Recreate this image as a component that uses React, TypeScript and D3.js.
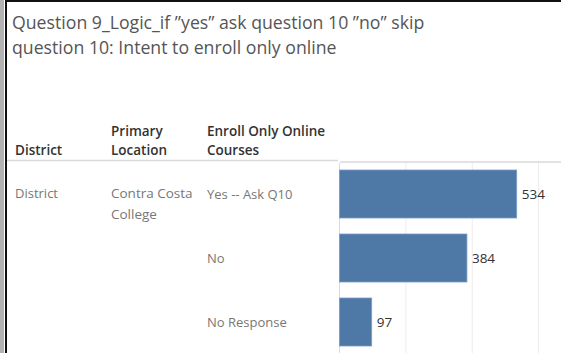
import React from "react";
import * as d3 from "d3";

const titleLines = ["Question 9_Logic_if ”yes” ask question 10 ”no” skip", "question 10: Intent to enroll only online"];
const headers = [
  { lines: ["District"] },
  { lines: ["Primary", "Location"] },
  { lines: ["Enroll Only Online", "Courses"] },
];
const districtLabel = "District";
const locationLabel = ["Contra Costa", "College"];
const categories = ["Yes -- Ask Q10", "No", "No Response"];
const values = [534, 384, 97];
const gridTicks = [200, 400, 600];

const W = 561;
const H = 353;
const FONT = "'Open Sans', 'Noto Sans', sans-serif";

export default function App() {
  React.useEffect(() => {
    document.body.style.margin = "0";
  }, []);
  const x = d3.scaleLinear().domain([0, 600]).range([339.5, 538.6]);
  const y = d3
    .scaleBand<string>()
    .domain(categories)
    .range([162, 354])
    .paddingInner(0.25)
    .paddingOuter(0.125);

  const colX = [15, 111, 207];

  return (
    <svg width={W} height={H} style={{ position: "absolute", left: 0, top: 0, background: "#fff" }} fontFamily={FONT}>
      {/* frame */}
      <rect x={0} y={0} width={4} height={H} fill="#b3b3b3" />
      <rect x={5} y={0} width={2} height={H} fill="#111" />
      <rect x={5} y={0} width={W - 5} height={2} fill="#111" />

      {/* title */}
      {titleLines.map((t, i) => (
        <text key={i} x={12} y={29 + i * 25} fontSize={17.7} fill="#555" fontWeight={400}>
          {t}
        </text>
      ))}

      {/* headers */}
      {headers.map((h, i) =>
        h.lines.map((l, j) => (
          <text
            key={`${i}-${j}`}
            x={colX[i]}
            y={155 - (h.lines.length - 1 - j) * 19}
            fontSize={13.5}
            fontWeight={600}
            fill="#333"
          >
            {l}
          </text>
        ))
      )}

      {/* separators */}
      <line x1={7} x2={338} y1={160.5} y2={160.5} stroke="#d9d9d9" strokeWidth={1.5} />
      <line x1={340} x2={W} y1={162} y2={162} stroke="#d9d9d9" strokeWidth={1.5} />

      {/* gridlines */}
      {gridTicks.map((t) => (
        <line key={t} x1={x(t)} x2={x(t)} y1={163} y2={H} stroke="#ececec" strokeWidth={1} />
      ))}
      <line x1={x(0)} x2={x(0)} y1={163} y2={H} stroke="#d9d9d9" strokeWidth={1} />

      {/* row labels */}
      <text x={colX[0]} y={198} fontSize={13} fill="#777">
        {districtLabel}
      </text>
      {locationLabel.map((l, j) => (
        <text key={j} x={colX[1]} y={198 + j * 21} fontSize={13.5} fill="#777">
          {l}
        </text>
      ))}
      {categories.map((c) => (
        <text
          key={c}
          x={colX[2]}
          y={(y(c) as number) + y.bandwidth() / 2}
          dy="0.35em"
          fontSize={13}
          fill="#777"
        >
          {c}
        </text>
      ))}

      {/* bars */}
      {categories.map((c, i) => (
        <g key={c}>
          <rect
            x={x(0)}
            y={y(c)}
            width={x(values[i]) - x(0)}
            height={y.bandwidth()}
            fill="#4e79a7"
            stroke="#7a9cc2"
            strokeWidth={0.8}
          />
          <text
            x={x(values[i]) + 5}
            y={(y(c) as number) + y.bandwidth() / 2}
            dy="0.35em"
            fontSize={13.5}
            fill="#333"
          >
            {values[i]}
          </text>
        </g>
      ))}
    </svg>
  );
}
